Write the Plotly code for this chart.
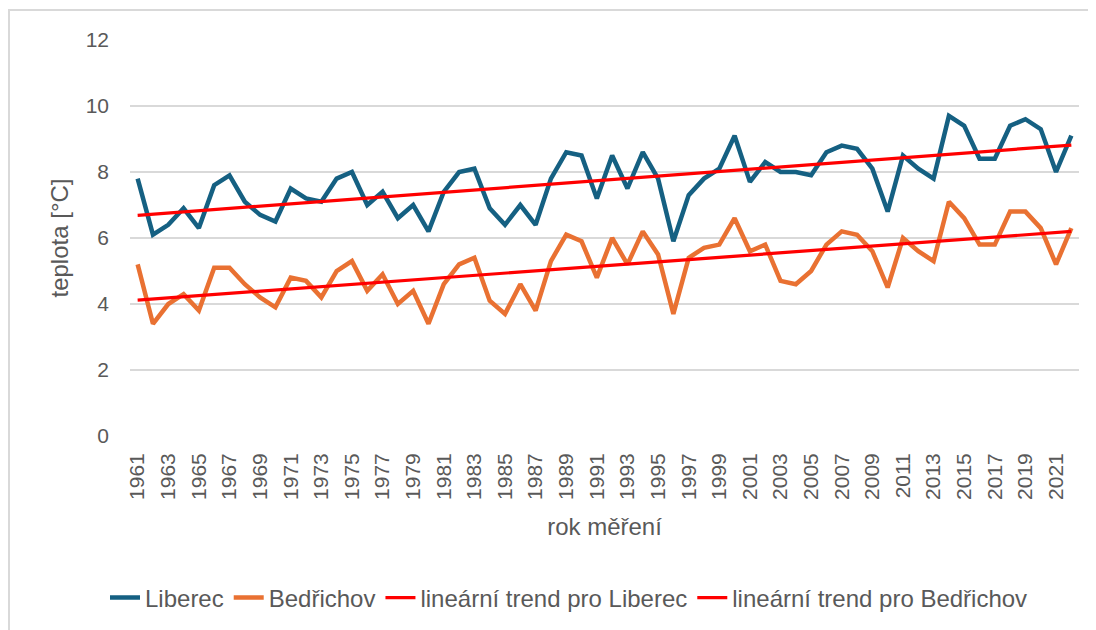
import numpy as np
import plotly.graph_objects as go

years = list(range(1961, 2023))

liberec = [7.8, 6.1, 6.4, 6.9, 6.3, 7.6, 7.9, 7.1, 6.7, 6.5,
           7.5, 7.2, 7.1, 7.8, 8.0, 7.0, 7.4, 6.6, 7.0, 6.2,
           7.4, 8.0, 8.1, 6.9, 6.4, 7.0, 6.4, 7.8, 8.6, 8.5,
           7.2, 8.5, 7.5, 8.6, 7.8, 5.9, 7.3, 7.8, 8.1, 9.1,
           7.7, 8.3, 8.0, 8.0, 7.9, 8.6, 8.8, 8.7, 8.1, 6.8,
           8.5, 8.1, 7.8, 9.7, 9.4, 8.4, 8.4, 9.4, 9.6, 9.3,
           8.0, 9.1]

bedrichov = [5.2, 3.4, 4.0, 4.3, 3.8, 5.1, 5.1, 4.6, 4.2, 3.9,
             4.8, 4.7, 4.2, 5.0, 5.3, 4.4, 4.9, 4.0, 4.4, 3.4,
             4.6, 5.2, 5.4, 4.1, 3.7, 4.6, 3.8, 5.3, 6.1, 5.9,
             4.8, 6.0, 5.2, 6.2, 5.5, 3.7, 5.4, 5.7, 5.8, 6.6,
             5.6, 5.8, 4.7, 4.6, 5.0, 5.8, 6.2, 6.1, 5.6, 4.5,
             6.0, 5.6, 5.3, 7.1, 6.6, 5.8, 5.8, 6.8, 6.8, 6.3,
             5.2, 6.3]

tick_years = list(range(1961, 2023, 2))
y_ticks = [0, 2, 4, 6, 8, 10, 12]

names = ["Liberec", "Bedřichov", "lineární trend pro Liberec", "lineární trend pro Bedřichov"]
x_title = "rok měření"
y_title = "teplota [°C]"

c_lib = "#156082"
c_bed = "#E97132"
c_trend = "#FF0000"
grey = "#595959"
font_family = "Liberation Sans, Arial, sans-serif"

xa = np.array(years, dtype=float)
k1, q1 = np.polyfit(xa, np.array(liberec), 1)
k2, q2 = np.polyfit(xa, np.array(bedrichov), 1)
trend_lib = k1 * xa + q1
trend_bed = k2 * xa + q2

fig = go.Figure()
fig.add_trace(go.Scatter(x=years, y=liberec, mode="lines", name=names[0],
                         line=dict(color=c_lib, width=4.5)))
fig.add_trace(go.Scatter(x=years, y=bedrichov, mode="lines", name=names[1],
                         line=dict(color=c_bed, width=4.5)))
fig.add_trace(go.Scatter(x=years, y=trend_lib, mode="lines", name=names[2],
                         line=dict(color=c_trend, width=3.2)))
fig.add_trace(go.Scatter(x=years, y=trend_bed, mode="lines", name=names[3],
                         line=dict(color=c_trend, width=3.2)))

# page body has an 8px margin; figure occupies window pixels 8..1096 x 8..630
OFF = 8
W, H = 1096 - OFF, 630 - OFF
L, R, T, B = 130 - OFF, 17, 40 - OFF, 194
pw, ph = W - L - R, H - T - B

def px_x(p):
    return (p - OFF - L) / pw

def px_y(p):
    return (H - B - (p - OFF)) / ph

fig.update_layout(
    width=W, height=H,
    margin=dict(l=L, r=R, t=T, b=B, autoexpand=False),
    paper_bgcolor="white", plot_bgcolor="white",
    font=dict(family=font_family, color=grey, size=21),
    showlegend=True,
    legend=dict(orientation="h", x=px_x(569), y=px_y(598), xanchor="center", yanchor="middle",
                font=dict(size=24, color=grey), bgcolor="rgba(0,0,0,0)",
                itemwidth=30, tracegroupgap=0),
    xaxis=dict(range=[1960.5, 2022.5], tickmode="array", tickvals=tick_years,
               ticktext=[str(t) for t in tick_years], tickangle=-90,
               showgrid=False, zeroline=False, showline=False, ticks="",
               tickfont=dict(size=21, color=grey), ticklabelstandoff=12,
               title=dict(text=x_title, font=dict(size=24, color=grey), standoff=19),
               automargin=False, fixedrange=True),
    yaxis=dict(range=[0, 12], tickmode="array", tickvals=y_ticks,
               showgrid=True, gridcolor="#D9D9D9", gridwidth=1.5,
               zeroline=False, showline=False, ticks="",
               tickfont=dict(size=21, color=grey), ticklabelstandoff=20,
               title=dict(text=y_title, font=dict(size=24, color=grey), standoff=10),
               automargin=False, fixedrange=True),
    shapes=[dict(type="rect", xref="paper", yref="paper",
                 x0=px_x(9), x1=px_x(1110), y0=px_y(650), y1=px_y(10),
                 line=dict(color="#D9D9D9", width=2), fillcolor="rgba(0,0,0,0)", layer="below")],
)

fig.write_html("out.html")
